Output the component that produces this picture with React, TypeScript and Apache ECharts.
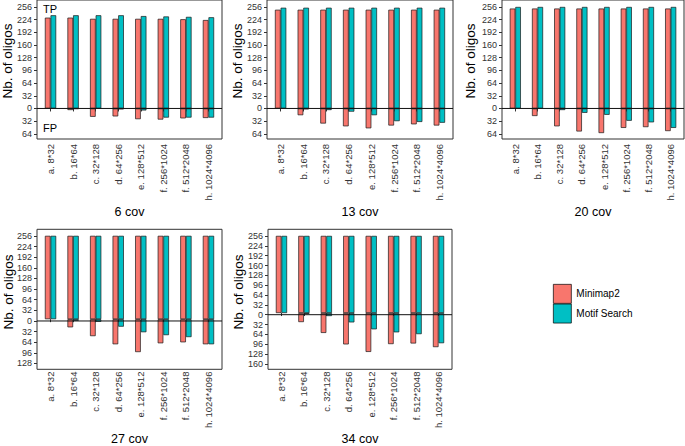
import React, { useEffect, useRef } from 'react';
import * as echarts from 'echarts';

const categories = ['a. 8*32', 'b. 16*64', 'c. 32*128', 'd. 64*256', 'e. 128*512', 'f. 256*1024', 'f. 512*2048', 'h. 1024*4096'];
const coverages = ['6 cov', '13 cov', '20 cov', '27 cov', '34 cov'];

// True positives (TP) per coverage
const tpMinimap6 = [229, 229, 226, 226, 226, 226, 225, 223];
const tpMotif6 = [235, 235, 235, 235, 233, 232, 231, 230];
const tpMinimap13 = [249, 249, 249, 249, 249, 249, 249, 249];
const tpMotif13 = [254, 254, 254, 254, 254, 254, 254, 254];
const tpMinimap20 = [252, 252, 252, 252, 252, 252, 252, 252];
const tpMotif20 = [256, 256, 256, 256, 256, 256, 256, 256];
const tpMinimap27 = [256, 256, 256, 256, 256, 256, 256, 256];
const tpMotif27 = [256, 256, 256, 256, 256, 256, 256, 256];
const tpMinimap34 = [256, 256, 256, 256, 256, 256, 256, 256];
const tpMotif34 = [256, 256, 256, 256, 256, 256, 256, 256];

// False positives (FP) per coverage (drawn downward)
const fpMinimap6 = [0, 4, 21, 20, 27, 28, 25, 24];
const fpMotif6 = [0, 1, 0, 2, 5, 23, 23, 23];
const fpMinimap13 = [0, 17, 38, 45, 50, 43, 40, 43];
const fpMotif13 = [0, 2, 4, 8, 17, 32, 34, 36];
const fpMinimap20 = [0, 19, 45, 58, 62, 49, 47, 57];
const fpMotif20 = [0, 0, 4, 11, 16, 31, 35, 49];
const fpMinimap27 = [0, 25, 52, 77, 101, 74, 71, 77];
const fpMotif27 = [0, 5, 8, 23, 40, 49, 55, 77];
const fpMinimap34 = [0, 30, 66, 104, 129, 103, 101, 113];
const fpMotif34 = [0, 3, 10, 31, 54, 64, 70, 100];

// y tick values (negative = FP side, labelled as absolute values)
const yTicksTop = [-64, -32, 0, 32, 64, 96, 128, 160, 192, 224, 256];
const yTicks27 = [-128, -96, -64, -32, 0, 32, 64, 96, 128, 160, 192, 224, 256];
const yTicks34 = [-160, -128, -96, -64, -32, 0, 32, 64, 96, 128, 160, 192, 224, 256];

const seriesNames = ['Minimap2', 'Motif Search'];

const panelData = [
  { tpM: tpMinimap6, tpS: tpMotif6, fpM: fpMinimap6, fpS: fpMotif6, ticks: yTicksTop },
  { tpM: tpMinimap13, tpS: tpMotif13, fpM: fpMinimap13, fpS: fpMotif13, ticks: yTicksTop },
  { tpM: tpMinimap20, tpS: tpMotif20, fpM: fpMinimap20, fpS: fpMotif20, ticks: yTicksTop },
  { tpM: tpMinimap27, tpS: tpMotif27, fpM: fpMinimap27, fpS: fpMotif27, ticks: yTicks27 },
  { tpM: tpMinimap34, tpS: tpMotif34, fpM: fpMinimap34, fpS: fpMotif34, ticks: yTicks34 },
];

// layout (frames in px, axis ranges)
const frames = [
  { l: 37, t: -1, w: 185, h: 140, min: -77, max: 273.5, nameGap: 66, yt: [7, 61] },
  { l: 267, t: -1, w: 186, h: 140, min: -77, max: 273.5, nameGap: 66, yt: [237, 61] },
  { l: 502, t: -1, w: 182, h: 140, min: -77, max: 273.5, nameGap: 66, yt: [470, 61] },
  { l: 37, t: 229.3, w: 185, h: 140, min: -145.5, max: 276, nameGap: 64, yt: [8, 292] },
  { l: 268, t: 229.3, w: 184, h: 140, min: -177.6, max: 277.8, nameGap: 64, yt: [238, 292] },
];

const RED = '#F8766D';
const TEAL = '#00BFC4';
const FONT = '"Liberation Sans", Arial, Helvetica, sans-serif';

const negOrEmpty = (v: number) => (v === 0 ? null : -v);

export default function App() {
  const ref = useRef<HTMLDivElement>(null);

  useEffect(() => {
    if (!ref.current) return;
    const chart = echarts.init(ref.current, null, { renderer: 'svg' });

    const grid: any[] = [];
    const xAxis: any[] = [];
    const yAxis: any[] = [];
    const series: any[] = [];
    const graphic: any[] = [];

    panelData.forEach((p, i) => {
      const f = frames[i];
      const inset = (f.w * 0.1) / 8.2;
      const gMain = 2 * i;
      const gHelp = 2 * i + 1;
      grid.push({ left: f.l + inset, top: f.t, width: f.w - 2 * inset, height: f.h });
      grid.push({
        left: f.l, top: f.t, width: f.w, height: f.h, show: true,
        borderColor: '#333', borderWidth: 1, backgroundColor: 'transparent',
      });
      xAxis.push({
        type: 'category', gridIndex: gMain, data: categories,
        axisLine: { show: false },
        axisTick: { show: true, alignWithLabel: true, length: 3, lineStyle: { color: '#333', width: 1 } },
        axisLabel: { rotate: 90, interval: 0, fontSize: 9.5, color: '#333', margin: 5, fontFamily: FONT },
        splitLine: { show: false },
        name: coverages[i], nameLocation: 'middle', nameGap: f.nameGap,
        nameTextStyle: { fontSize: 12.5, color: '#000', fontFamily: FONT },
      });
      xAxis.push({ type: 'value', gridIndex: gHelp, min: 0, max: 1, show: false });
      yAxis.push({ type: 'value', gridIndex: gMain, min: f.min, max: f.max, show: false });
      yAxis.push({
        type: 'value', gridIndex: gHelp, min: f.min, max: f.max,
        axisLine: { show: false },
        splitLine: { show: false },
        axisTick: { show: true, length: 3, customValues: p.ticks, lineStyle: { color: '#333', width: 1 } },
        axisLabel: {
          customValues: p.ticks, fontSize: 9, color: '#333', margin: 5, fontFamily: FONT,
          formatter: (v: number) => String(Math.abs(v)),
        },
      });
      const barBase = {
        type: 'bar', xAxisIndex: gMain, yAxisIndex: gMain, barWidth: '25%', barGap: '0%',
        silent: true,
      };
      const border = { borderColor: '#1a1a1a', borderWidth: 0.7 };
      series.push({ ...barBase, name: seriesNames[0], stack: 'm' + i, data: p.tpM, itemStyle: { color: RED, ...border } });
      series.push({ ...barBase, name: seriesNames[0], stack: 'm' + i, data: p.fpM.map(negOrEmpty), itemStyle: { color: RED, ...border } });
      series.push({ ...barBase, name: seriesNames[1], stack: 's' + i, data: p.tpS, itemStyle: { color: TEAL, ...border } });
      series.push({ ...barBase, name: seriesNames[1], stack: 's' + i, data: p.fpS.map(negOrEmpty), itemStyle: { color: TEAL, ...border } });
      series.push({
        type: 'line', xAxisIndex: gHelp, yAxisIndex: gHelp, data: [[0, 0], [1, 0]],
        symbol: 'none', lineStyle: { color: '#111', width: 1 }, z: 5, silent: true,
      });
      graphic.push({
        type: 'text', x: f.yt[0], y: f.yt[1], rotation: Math.PI / 2,
        style: { text: 'Nb. of oligos', fontSize: 13.5, fill: '#000', align: 'center', verticalAlign: 'middle', fontFamily: FONT },
      });
    });

    graphic.push({ type: 'text', x: 43, y: 9, style: { text: 'TP', fontSize: 11, fill: '#000', align: 'left', verticalAlign: 'middle', fontFamily: FONT } });
    graphic.push({ type: 'text', x: 43, y: 127.5, style: { text: 'FP', fontSize: 11, fill: '#000', align: 'left', verticalAlign: 'middle', fontFamily: FONT } });

    chart.setOption({
      animation: false,
      textStyle: { fontFamily: FONT },
      grid,
      xAxis,
      yAxis,
      series,
      graphic,
      legend: {
        data: seriesNames, orient: 'vertical', left: 553, top: 284, itemWidth: 18, itemHeight: 19,
        itemGap: 0, padding: 0, icon: 'rect', selectedMode: false,
        textStyle: { fontSize: 10, color: '#000', fontFamily: FONT },
        itemStyle: { borderColor: '#000', borderWidth: 0.7 },
      },
    });

    return () => chart.dispose();
  }, []);

  return <div ref={ref} style={{ position: 'absolute', left: 0, top: 0, width: 685, height: 446 }} />;
}
